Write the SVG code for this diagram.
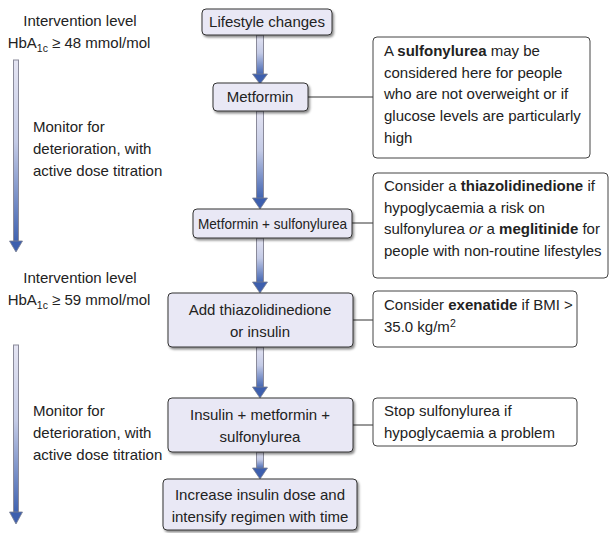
<svg xmlns="http://www.w3.org/2000/svg" width="612" height="533" viewBox="0 0 612 533">
<defs>
<linearGradient id="shaft" x1="0" y1="0" x2="0" y2="1">
<stop offset="0" stop-color="#e4e4f2"/>
<stop offset="0.45" stop-color="#c4cbe6"/>
<stop offset="1" stop-color="#3f62b0"/>
</linearGradient>
<filter id="sh" x="-10%" y="-10%" width="130%" height="140%">
<feDropShadow dx="1.5" dy="2" stdDeviation="1" flood-color="#000" flood-opacity="0.45"/>
</filter>
</defs>
<style>
text{font-family:"Liberation Sans",Arial,sans-serif;font-size:15px;fill:#222}
.box{fill:#e9e8f5;stroke:#333;stroke-width:1}
.note{fill:#fff;stroke:#444;stroke-width:1}
.c{text-anchor:middle}
.b{font-weight:bold}
.ln{stroke:#333;stroke-width:1;fill:none}
.sf{fill:url(#shaft);stroke:#8a8a9a;stroke-width:1}
.hd{fill:#3d5fae;stroke:#7a7f90;stroke-width:0.8}
</style>
<rect width="612" height="533" fill="#fff"/>

<g id="connectors">
<line class="ln" x1="308" y1="97" x2="373" y2="97"/>
<line class="ln" x1="352" y1="223" x2="373" y2="223"/>
<line class="ln" x1="353" y1="320" x2="373" y2="320"/>
<line class="ln" x1="353" y1="425" x2="373" y2="425"/>
<rect class="sf" x="256.5" y="35" width="7" height="40"/>
<polygon class="hd" points="252.5,74 267.5,74 260,84"/>
<rect class="sf" x="256.5" y="111" width="7" height="88"/>
<polygon class="hd" points="252.5,198 267.5,198 260,209"/>
<rect class="sf" x="256.5" y="238" width="7" height="45"/>
<polygon class="hd" points="252.5,282 267.5,282 260,293"/>
<rect class="sf" x="256.5" y="347" width="7" height="41"/>
<polygon class="hd" points="252.5,387 267.5,387 260,398"/>
<rect class="sf" x="256.5" y="452" width="7" height="17"/>
<polygon class="hd" points="252.5,468 267.5,468 260,479"/>
<rect class="sf" x="13.5" y="60" width="5" height="182"/>
<polygon class="hd" points="9.5,241 22.5,241 16,252"/>
<rect class="sf" x="13.5" y="345" width="5" height="168"/>
<polygon class="hd" points="9.5,512 22.5,512 16,524"/>
</g>

<g id="label-level1">
<text class="c" x="80" y="26">Intervention level</text>
<text class="c" x="79" y="48">HbA<tspan font-size="10.5" dy="4">1c</tspan><tspan dy="-4"> ≥ 48 mmol/mol</tspan></text>
</g>
<g id="label-monitor1">
<text x="33" y="132">Monitor for</text>
<text x="33" y="154">deterioration, with</text>
<text x="33" y="176">active dose titration</text>
</g>
<g id="label-level2">
<text class="c" x="80" y="283">Intervention level</text>
<text class="c" x="79" y="305">HbA<tspan font-size="10.5" dy="4">1c</tspan><tspan dy="-4"> ≥ 59 mmol/mol</tspan></text>
</g>
<g id="label-monitor2">
<text x="33" y="416">Monitor for</text>
<text x="33" y="438">deterioration, with</text>
<text x="33" y="460">active dose titration</text>
</g>

<g id="lifestyle">
<rect class="box" x="202" y="9" width="130" height="26" rx="4" filter="url(#sh)"/>
<text class="c" x="267" y="27">Lifestyle changes</text>
</g>
<g id="metformin">
<rect class="box" x="213" y="83" width="95" height="28" rx="4" filter="url(#sh)"/>
<text class="c" x="260" y="102">Metformin</text>
</g>
<g id="metformin-sulfonylurea">
<rect class="box" x="193" y="209" width="159" height="29" rx="4" filter="url(#sh)"/>
<text x="198" y="229" textLength="149" lengthAdjust="spacingAndGlyphs">Metformin + sulfonylurea</text>
</g>
<g id="add-thiazolidinedione">
<rect class="box" x="168" y="293" width="185" height="54" rx="4" filter="url(#sh)"/>
<text class="c" x="260" y="315">Add thiazolidinedione</text>
<text class="c" x="260" y="337">or insulin</text>
</g>
<g id="insulin-metformin">
<rect class="box" x="168" y="398" width="185" height="54" rx="4" filter="url(#sh)"/>
<text class="c" x="260" y="420">Insulin + metformin +</text>
<text class="c" x="260" y="442">sulfonylurea</text>
</g>
<g id="increase-insulin">
<rect class="box" x="163" y="479" width="194" height="51" rx="4" filter="url(#sh)"/>
<text class="c" x="260" y="500">Increase insulin dose and</text>
<text class="c" x="260" y="522">intensify regimen with time</text>
</g>

<g id="note-sulfonylurea">
<rect class="note" x="373" y="37" width="217" height="121" rx="4"/>
<text x="384" y="56">A <tspan class="b">sulfonylurea</tspan> may be</text>
<text x="384" y="78">considered here for people</text>
<text x="384" y="99">who are not overweight or if</text>
<text x="384" y="121">glucose levels are particularly</text>
<text x="384" y="143">high</text>
</g>
<g id="note-thiazolidinedione">
<rect class="note" x="373" y="173" width="235" height="105" rx="4"/>
<text x="384" y="191">Consider a <tspan class="b">thiazolidinedione</tspan> if</text>
<text x="384" y="213">hypoglycaemia a risk on</text>
<text x="384" y="234">sulfonylurea <tspan font-style="italic">or</tspan> a <tspan class="b">meglitinide</tspan> for</text>
<text x="384" y="256">people with non-routine lifestyles</text>
</g>
<g id="note-exenatide">
<rect class="note" x="373" y="291" width="204" height="56" rx="4"/>
<text x="384" y="310">Consider <tspan class="b">exenatide</tspan> if BMI &gt;</text>
<text x="384" y="332">35.0 kg/m<tspan font-size="10.5" dy="-5">2</tspan></text>
</g>
<g id="note-stop">
<rect class="note" x="373" y="398" width="204" height="48" rx="4"/>
<text x="384" y="416">Stop sulfonylurea if</text>
<text x="384" y="438">hypoglycaemia a problem</text>
</g>
</svg>
